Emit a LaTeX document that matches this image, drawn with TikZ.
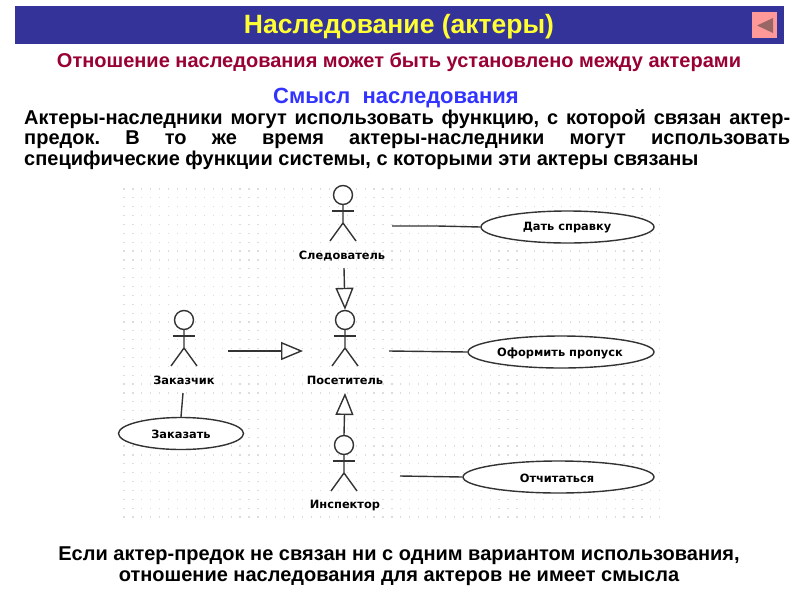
\documentclass[tikz,border=0pt]{standalone}
\usepackage{fontspec}
\setmainfont{Liberation Sans}
\newfontfamily\umlfont{DejaVu Sans}
\usetikzlibrary{arrows.meta,shapes.geometric}
\definecolor{headblue}{HTML}{333399}
\definecolor{headyellow}{HTML}{FFFF33}
\definecolor{subred}{HTML}{990033}
\definecolor{subblue}{HTML}{3333FF}
\definecolor{btnpink}{HTML}{FF9999}
\definecolor{btnarrow}{HTML}{996666}
\definecolor{dotgrey}{HTML}{DDDDDD}
\definecolor{umlline}{HTML}{333333}
\frenchspacing
\tikzset{
  umlstroke/.style={draw=umlline,line width=1.4pt},
  head/.style={umlstroke,circle,minimum size=19pt,inner sep=0pt,fill=white},
  usecase/.style={umlstroke,ellipse,fill=white,inner sep=0pt,minimum height=32pt},
  umllabel/.style={font=\umlfont\bfseries\fontsize{11.4}{13}\selectfont,inner sep=0pt,text=black},
  assoc/.style={umlstroke},
  inherit/.style={umlstroke,-{Triangle[open,fill=white,length=22pt,width=18pt]}},
  slidetext/.style={font=\bfseries\fontsize{20}{20.5}\selectfont,inner sep=0pt,text=black},
}
\newcommand{\umlactor}[6]{% name, x, y (head centre), label, label x, label y
  \node[head] (#1) at (#2,#3) {};
  \draw[umlstroke] (#1.south) -- (#2,#3+28) coordinate (#1c) -- (#2-13,#3+46);
  \draw[umlstroke] (#1c) -- (#2+13,#3+46);
  \draw[umlstroke] (#2-11,#3+16) -- (#2+11,#3+16);
  \node[umllabel] (#1l) at (#5,#6) {#4};
}
\begin{document}
\begin{tikzpicture}[x=1pt,y=-1pt]
\useasboundingbox (0,0) rectangle (800,600);
\fill[white] (0,0) rectangle (800,600);
% header
\node[draw=none,fill=headblue,minimum width=769pt,minimum height=38pt,inner sep=0pt,anchor=north west] (bar) at (15,6) {};
\node[font=\bfseries\fontsize{26.5}{30}\selectfont,text=headyellow,inner sep=0pt] (title) at (399,27) {Наследование (актеры)};
\node[fill=btnpink,minimum width=25pt,minimum height=26pt,inner sep=0pt] (btn) at (764.5,25) {};
\fill[btnarrow] (757,25.5) -- (773,18) -- (773,33) -- cycle;
% texts
\node[font=\bfseries\fontsize{20}{24}\selectfont,text=subred,inner sep=0pt] (sub) at (399,62) {Отношение наследования может быть установлено между актерами};
\node[font=\bfseries\fontsize{22}{24}\selectfont,text=subblue,inner sep=0pt] (meaning) at (396,98) {Смысл\ \ наследования};
\node[slidetext,anchor=north west] (para) at (24,109) {\vbox{\hsize=766pt \baselineskip=20.5pt
  \hbox to 766pt{Актеры-наследники могут использовать функцию, с которой связан актер-}
  \hbox to 766pt{предок. В то же время актеры-наследники могут использовать}
  \hbox{специфические функции системы, с которыми эти актеры связаны}}};
\node[slidetext,align=center] (concl) at (399,566) {Если актер-предок не связан ни с одним вариантом использования,\\отношение наследования для актеров не имеет смысла};
% dot grid
\foreach \i in {0,...,60} \foreach \j in {0,...,37}
  \fill[dotgrey] (124+\i*8.93-0.6,189+\j*8.865-0.6) rectangle +(1.2,1.2);
% actors
\umlactor{sled}{343}{195}{Следователь}{342}{256}
\umlactor{pos}{345}{320}{Посетитель}{345}{380}
\umlactor{zak}{184}{320}{Заказчик}{184}{380}
\umlactor{insp}{344}{445}{Инспектор}{345}{506}
% use cases
\node[usecase,minimum width=173pt] (uc1) at (567.5,227) {};
\node[umllabel] at (567,228) {Дать справку};
\node[usecase,minimum width=186pt] (uc2) at (561,352) {};
\node[umllabel] at (560,353) {Оформить пропуск};
\node[usecase,minimum width=191pt] (uc3) at (558.5,477) {};
\node[umllabel] at (557,478) {Отчитаться};
\node[usecase,minimum width=125pt] (uc4) at (181,433.5) {};
\node[umllabel] at (181,434) {Заказать};
% connectors
\coordinate (a1) at (392,226);
\coordinate (a2) at (389,351);
\coordinate (a3) at (400,476);
\coordinate (a4) at (183,393);
\coordinate (i1) at (344,268);
\coordinate (i2) at (228,351);
\coordinate (t2) at (303,351);
\coordinate (t3) at (345,393);
\draw[assoc] (a1) -- (437,226) -- (uc1.west);
\draw[assoc] (a2) -- (uc2.west);
\draw[assoc] (a3) -- (uc3.west);
\draw[assoc] (a4) -- (uc4.north);
\draw[inherit] (i1) -- (pos.north);
\draw[inherit] (i2) -- (t2);
\draw[inherit] (insp.north) -- (t3);
\end{tikzpicture}
\end{document}
